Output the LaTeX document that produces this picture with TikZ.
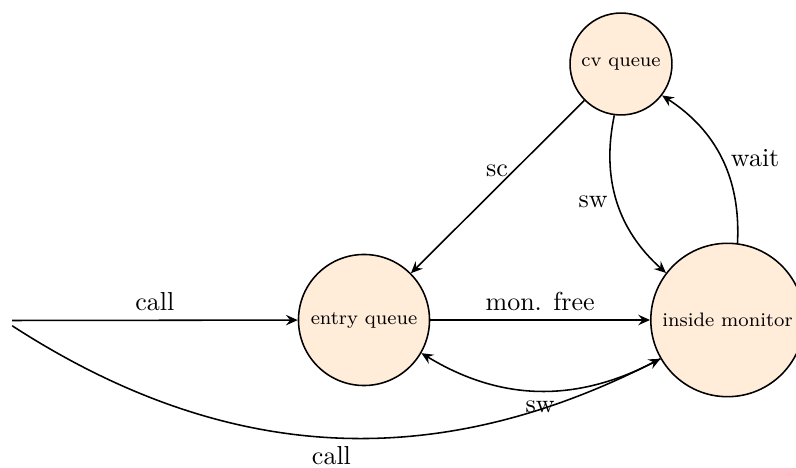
\documentclass[tikz,border=0pt]{standalone}
\usetikzlibrary{arrows.meta}
\begin{document}
\begin{tikzpicture}[x=0.3846pt,y=0.3846pt,
  state/.style={circle,draw,semithick,fill=orange!15,inner sep=0pt,font=\fontsize{7.5}{9}\selectfont},
  conn/.style={draw,semithick,-{Stealth[length=4.5pt,width=4pt,inset=1.6pt]}}]
\useasboundingbox (0,0) rectangle (796,468);
\node[state,minimum size=39.2pt] (cv) at (621,404) {cv queue};
\node[state,minimum size=50.4pt] (eq) at (364,148) {entry queue};
\node[state,minimum size=59pt] (im) at (727.5,148) {inside monitor};
\node[inner sep=3.333pt] (start) at (3,147.5) {};
\draw[conn] (start) -- node[above] {call} (eq);
\draw[conn] (start) to[bend right=30] node[below] {call} (im);
\draw[conn] (eq) -- node[above] {mon. free} (im);
\draw[conn] (im) to[bend left=30] node[below] {sw} (eq);
\draw[conn] (cv) -- node[pos=0.41,left,inner sep=1.8pt] {sc} (eq);
\draw[conn] (cv) to[bend right=30] node[left] {sw} (im);
\draw[conn] (im) to[bend right=30] node[right] {wait} (cv);
\end{tikzpicture}
\end{document}
